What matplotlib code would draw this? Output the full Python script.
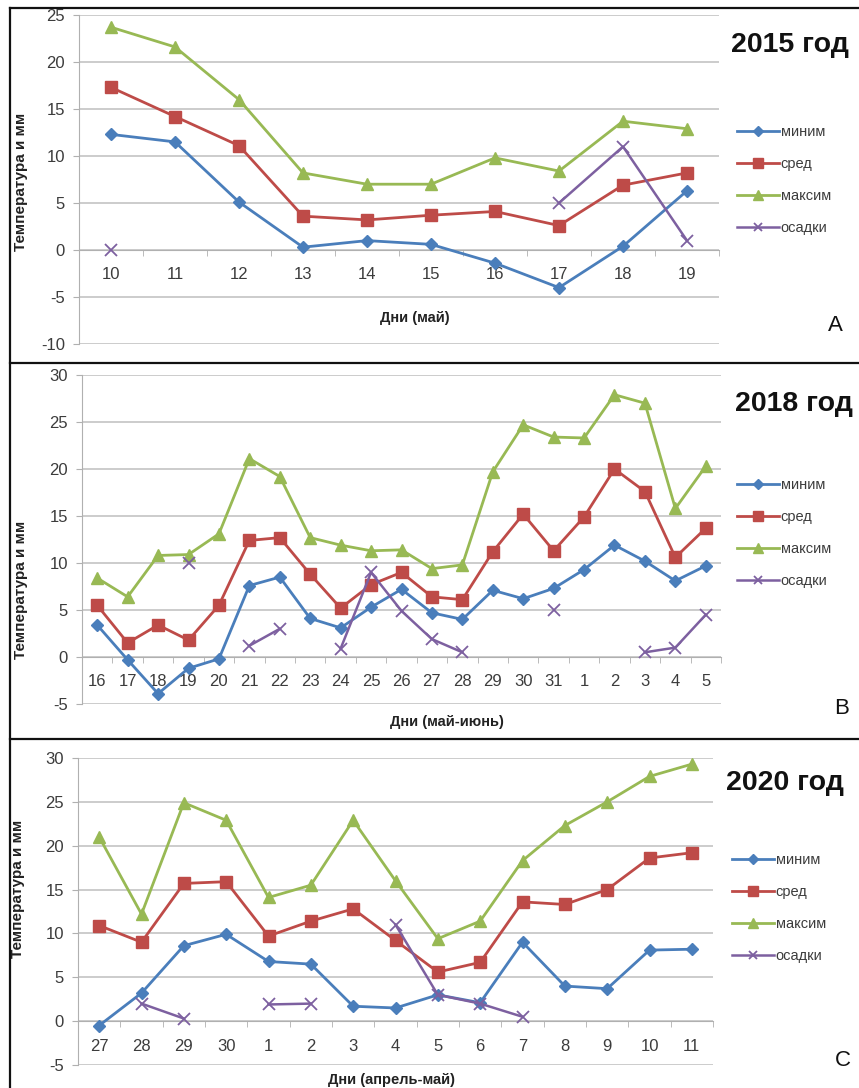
import numpy as np
import matplotlib
matplotlib.use('Agg')
import matplotlib.pyplot as plt
from matplotlib.lines import Line2D

plt.rcParams['font.family'] = ['Liberation Sans', 'DejaVu Sans']
plt.rcParams['axes.unicode_minus'] = False

nan = np.nan

# ---------------- data ----------------
series_labels = ['миним', 'сред', 'максим', 'осадки']

days_2015 = ['10', '11', '12', '13', '14', '15', '16', '17', '18', '19']
min_2015 = [12.3, 11.5, 5.1, 0.3, 1.0, 0.6, -1.4, -4.0, 0.4, 6.3]
avg_2015 = [17.3, 14.2, 11.1, 3.6, 3.2, 3.7, 4.1, 2.6, 6.9, 8.2]
max_2015 = [23.7, 21.6, 16.0, 8.2, 7.0, 7.0, 9.8, 8.4, 13.7, 12.9]
prec_2015 = [0.0, nan, nan, nan, nan, nan, nan, 5.0, 11.0, 1.0]

days_2018 = ['16', '17', '18', '19', '20', '21', '22', '23', '24', '25', '26',
             '27', '28', '29', '30', '31', '1', '2', '3', '4', '5']
min_2018 = [3.4, -0.3, -3.9, -1.2, -0.2, 7.6, 8.5, 4.1, 3.1, 5.3, 7.2,
            4.7, 4.0, 7.1, 6.2, 7.3, 9.3, 11.9, 10.2, 8.1, 9.7]
avg_2018 = [5.5, 1.5, 3.4, 1.8, 5.5, 12.4, 12.7, 8.8, 5.2, 7.7, 9.0,
            6.4, 6.1, 11.2, 15.2, 11.3, 14.9, 20.0, 17.6, 10.6, 13.7]
max_2018 = [8.4, 6.4, 10.8, 10.9, 13.1, 21.1, 19.2, 12.7, 11.9, 11.3, 11.4,
            9.4, 9.8, 19.7, 24.7, 23.4, 23.3, 27.9, 27.0, 15.8, 20.3]
prec_2018 = [nan, nan, nan, 10.0, nan, 1.2, 3.0, nan, 0.9, 9.0, 4.9,
             1.9, 0.5, nan, nan, 5.0, nan, nan, 0.5, 1.0, 4.5]

days_2020 = ['27', '28', '29', '30', '1', '2', '3', '4', '5', '6', '7',
             '8', '9', '10', '11']
min_2020 = [-0.5, 3.2, 8.6, 9.9, 6.8, 6.5, 1.7, 1.5, 3.0, 2.1, 9.0,
            4.0, 3.7, 8.1, 8.2]
avg_2020 = [10.9, 9.0, 15.7, 15.9, 9.7, 11.4, 12.8, 9.2, 5.6, 6.7, 13.6,
            13.3, 15.0, 18.6, 19.2]
max_2020 = [21.0, 12.2, 24.9, 22.9, 14.1, 15.5, 22.9, 16.0, 9.4, 11.4, 18.3,
            22.3, 25.0, 27.9, 29.3]
prec_2020 = [nan, 2.0, 0.3, nan, 1.9, 2.0, nan, 11.0, 3.0, 2.0, 0.5,
             nan, nan, nan, nan]

# ---------------- styling ----------------
W, H = 859, 1088
fig = plt.figure(figsize=(W / 100, H / 100), dpi=100)
fig.patch.set_facecolor('white')

colors = ['#4A7EBB', '#BE4B48', '#98B954', '#7D60A0']
markers = ['D', 's', '^', 'x']
msizes = [6.0, 8.5, 8.5, 8.0]
grid_c = '#c3c3c3'
text_c = '#3c3c3c'


def rect(l, r, t, b):
    return [l / W, 1 - b / H, (r - l) / W, (b - t) / H]


def panel(box, days, data, ylo, yhi, title, title_xy, letter, letter_xy,
          xlabel, xlab_xy, ylab_xy, leg_xy):
    ax = fig.add_axes(rect(*box))
    n = len(days)
    x = np.arange(n)
    handles = []
    for vals, c, m, ms, lab in zip(data, colors, markers, msizes, series_labels):
        kw = dict(color=c, lw=2.0, marker=m, ms=ms, mfc=c, mec=c, zorder=3)
        if m == 'x':
            kw.update(mew=1.3, lw=1.8)
        h, = ax.plot(x, vals, label=lab, **kw)
        handles.append(h)
    ax.set_xlim(-0.5, n - 0.5)
    ax.set_ylim(ylo, yhi)
    ax.set_yticks(np.arange(ylo, yhi + 1, 5))
    ax.yaxis.grid(True, color=grid_c, lw=1.2, zorder=0)
    ax.set_axisbelow(True)
    for s in ('top', 'right'):
        ax.spines[s].set_visible(False)
    ax.spines['left'].set_color('#b0b0b0')
    ax.spines['bottom'].set_color('#b0b0b0')
    ax.spines['bottom'].set_position(('data', 0))
    ax.set_xticks(x)
    ax.set_xticklabels(days)
    ax.set_xticks(np.arange(n + 1) - 0.5, minor=True)
    ax.tick_params(axis='x', which='major', length=0, pad=12.5,
                   labelsize=12, labelcolor=text_c)
    ax.tick_params(axis='x', which='minor', length=4, direction='out',
                   color='#b0b0b0')
    ax.tick_params(axis='y', length=4, direction='out', color='#b0b0b0',
                   pad=6, labelsize=12, labelcolor=text_c)
    ax.set_ylabel('Температура и мм', fontsize=11, fontweight='bold',
                  color='#222222')
    l, r, t, b = box
    ax.yaxis.set_label_coords((ylab_xy[0] - l) / (r - l),
                              (b - ylab_xy[1]) / (b - t))
    ax.set_xlabel(xlabel, fontsize=10.5, fontweight='bold', color='#222222')
    ax.xaxis.set_label_coords((xlab_xy[0] - l) / (r - l),
                              (b - xlab_xy[1]) / (b - t))
    ax.xaxis.label.set_va('center')
    ax.legend(handles=handles, loc='center left',
              bbox_to_anchor=(leg_xy[0] / W, 1 - leg_xy[1] / H),
              bbox_transform=fig.transFigure, frameon=False, borderpad=0,
              borderaxespad=0, handlelength=2.9, handletextpad=0.1,
              labelspacing=1.25, fontsize=10.5, labelcolor=text_c,
              markerscale=0.8)
    fig.text(title_xy[0] / W, 1 - title_xy[1] / H, title, fontsize=20.5,
             fontweight='bold', ha='center', va='center', color='#111111')
    fig.text(letter_xy[0] / W, 1 - letter_xy[1] / H, letter, fontsize=16,
             ha='center', va='center', color='#111111')
    return ax


panel((79, 719, 15, 344), days_2015,
      [min_2015, avg_2015, max_2015, prec_2015], -10, 25,
      '2015 год', (790, 45), 'A', (835, 326),
      'Дни (май)', (415, 318), (28, 182), (737, 180))

panel((82, 721, 375, 704), days_2018,
      [min_2018, avg_2018, max_2018, prec_2018], -5, 30,
      '2018 год', (794, 404), 'B', (842, 709),
      'Дни (май-июнь)', (447, 722), (28, 590), (737, 533))

panel((78, 713, 758, 1065), days_2020,
      [min_2020, avg_2020, max_2020, prec_2020], -5, 30,
      '2020 год', (785, 783), 'C', (843, 1060),
      'Дни (апрель-май)', (392, 1080), (25, 889), (732, 908))


# panel frames
def hline(y, x0=10, x1=W):
    fig.add_artist(Line2D([x0 / W, x1 / W], [1 - y / H, 1 - y / H],
                          transform=fig.transFigure, color='#111111', lw=1.6))


hline(8)
hline(362.5)
hline(739)
fig.add_artist(Line2D([10 / W, 10 / W], [1 - 8 / H, 0],
                      transform=fig.transFigure, color='#111111', lw=1.6))

fig.savefig('out.png', dpi=100, facecolor='white')
